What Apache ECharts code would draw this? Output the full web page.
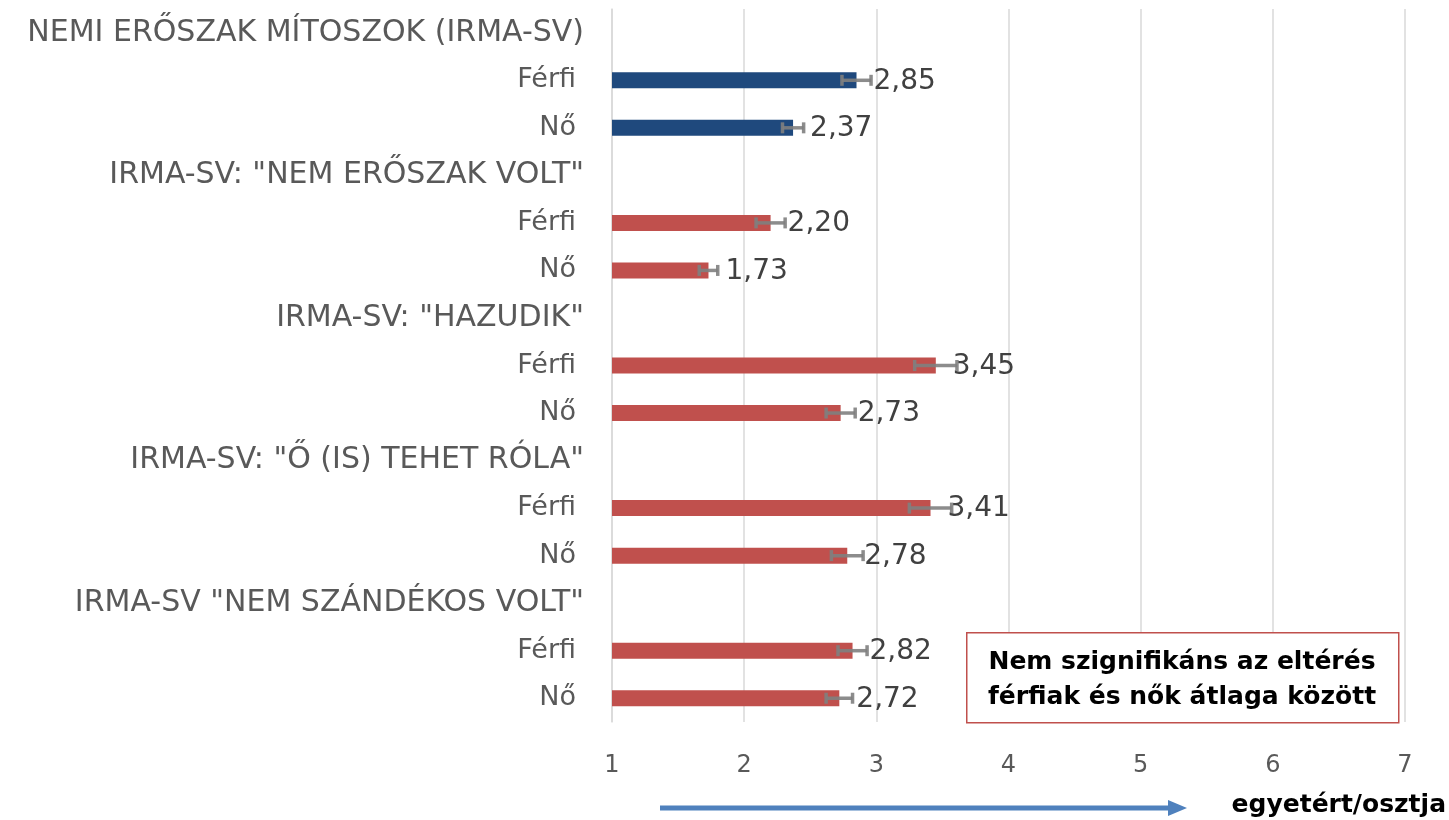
<!DOCTYPE html>
<html>
<head>
<meta charset="utf-8">
<script src="https://cdn.jsdelivr.net/npm/echarts@6/dist/echarts.min.js"></script>
<style>
  html, body { margin: 0; padding: 0; background: #fff; }
  #chart { width: 1449px; height: 820px; }
</style>
</head>
<body>
<div id="chart"></div>
<script>
  // sorok fentről lefelé (a fejlécsoroknak nincs értéke)
  var categories = [
    "NEMI ERŐSZAK MÍTOSZOK (IRMA-SV)", "Férfi", "Nő",
    "IRMA-SV: \"NEM ERŐSZAK VOLT\"", "Férfi", "Nő",
    "IRMA-SV: \"HAZUDIK\"", "Férfi", "Nő",
    "IRMA-SV: \"Ő (IS) TEHET RÓLA\"", "Férfi", "Nő",
    "IRMA-SV \"NEM SZÁNDÉKOS VOLT\"", "Férfi", "Nő"
  ];
  var means = [null, 2.85, 2.37, null, 2.20, 1.73, null, 3.45, 2.73, null, 3.41, 2.78, null, 2.82, 2.72];
  var errors = [null, 0.11, 0.08, null, 0.11, 0.07, null, 0.16, 0.11, null, 0.16, 0.12, null, 0.11, 0.10];
  var xTicks = [1, 2, 3, 4, 5, 6, 7];
  var noteLines = ["Nem szignifikáns az eltérés", "férfiak és nők átlaga között"];
  var arrowText = "egyetért/osztja";

  var FONT = "'DejaVu Sans', sans-serif";
  var BLUE = "#1f497d";
  var RED = "#c0504d";

  var errData = [];
  means.forEach(function (m, i) {
    if (m != null) errData.push([i, m, errors[i]]);
  });

  var chart = echarts.init(document.getElementById("chart"));

  var option = {
    animation: false,
    grid: { left: 612, right: 44, top: 9, bottom: 98, containLabel: false },
    xAxis: {
      type: "value",
      min: xTicks[0],
      max: xTicks[xTicks.length - 1],
      interval: 1,
      axisLine: { show: false },
      axisTick: { show: false },
      splitLine: { show: true, lineStyle: { color: "#d9d9d9", width: 1.5 } },
      axisLabel: { color: "#595959", fontSize: 24, fontFamily: FONT, margin: 32 }
    },
    yAxis: {
      type: "category",
      inverse: true,
      data: categories,
      axisTick: { show: false },
      axisLine: { show: true, lineStyle: { color: "#d9d9d9", width: 1.5 } },
      axisLabel: {
        margin: 28,
        formatter: function (v, i) {
          return i % 3 === 0 ? "{h|" + v + "}" : "{g|" + v + "}";
        },
        rich: {
          h: { color: "#595959", fontSize: 30, fontFamily: FONT },
          g: { color: "#595959", fontSize: 27, fontFamily: FONT, padding: [0, 8, 0, 0] }
        }
      }
    },
    series: [
      {
        type: "bar",
        data: means,
        barWidth: 16,
        clip: true,
        itemStyle: {
          color: function (p) { return p.dataIndex < 3 ? BLUE : RED; }
        },
        z: 2
      },
      {
        type: "custom",
        z: 3,
        data: errData,
        renderItem: function (params, api) {
          var idx = api.value(0);
          var m = api.value(1);
          var e = api.value(2);
          var lo = api.coord([m - e, idx]);
          var hi = api.coord([m + e, idx]);
          var end = api.coord([m, idx]);
          var y = lo[1];
          var st = { stroke: "rgba(128,128,128,0.9)", lineWidth: 3.5 };
          return {
            type: "group",
            children: [
              { type: "line", shape: { x1: lo[0], y1: y, x2: hi[0], y2: y }, style: st },
              { type: "line", shape: { x1: lo[0], y1: y - 5.5, x2: lo[0], y2: y + 5.5 }, style: st },
              { type: "line", shape: { x1: hi[0], y1: y - 5.5, x2: hi[0], y2: y + 5.5 }, style: st },
              {
                type: "text",
                x: end[0] + 17,
                y: y + 1,
                style: {
                  text: m.toFixed(2).replace(".", ","),
                  fill: "#404040",
                  font: "28px " + FONT,
                  verticalAlign: "middle",
                  align: "left"
                }
              }
            ]
          };
        }
      }
    ],
    graphic: [
      {
        type: "rect",
        left: 966, top: 632,
        shape: { width: 432, height: 90 },
        style: { fill: "#fff", stroke: RED, lineWidth: 1.5 },
        z: 10
      },
      {
        type: "text",
        x: 1182, y: 680,
        style: {
          text: noteLines.join("\n"),
          fill: "#000",
          font: "bold 25px " + FONT,
          lineHeight: 35,
          align: "center",
          verticalAlign: "middle"
        },
        z: 11
      },
      {
        type: "line",
        shape: { x1: 660, y1: 808, x2: 1170, y2: 808 },
        style: { stroke: "#4f81bd", lineWidth: 5 },
        z: 10
      },
      {
        type: "polygon",
        shape: { points: [[1168, 800], [1187, 808], [1168, 816]] },
        style: { fill: "#4f81bd" },
        z: 10
      },
      {
        type: "text",
        x: 1446, y: 805,
        style: {
          text: arrowText,
          fill: "#000",
          font: "bold 25px " + FONT,
          align: "right",
          verticalAlign: "middle"
        },
        z: 10
      }
    ]
  };

  chart.setOption(option);
</script>
</body>
</html>
